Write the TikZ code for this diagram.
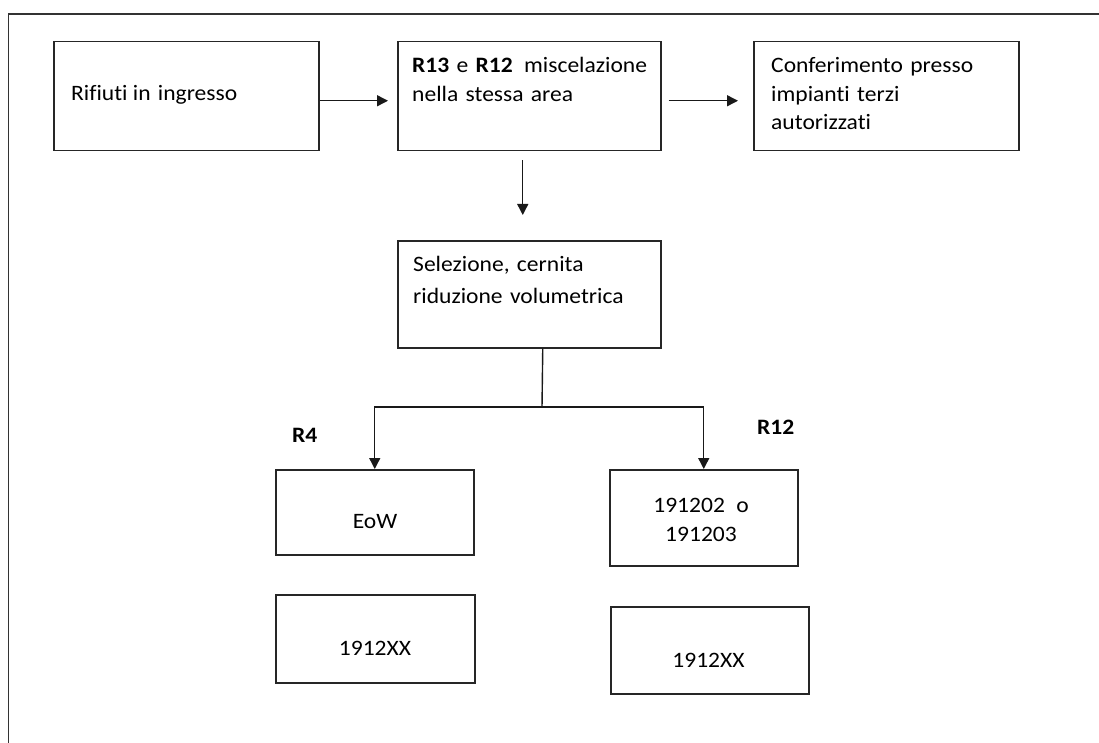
\documentclass[tikz,border=0pt]{standalone}
\usepackage{fontspec}
\setmainfont{Carlito}[Ligatures=NoCommon, FakeStretch=1.07]
\usetikzlibrary{arrows.meta}
\tikzset{
  box/.style={draw=black!85, line width=1.5pt, rectangle, inner sep=0pt, anchor=north west},
  txt/.style={inner sep=0pt, anchor=base west, text width=280pt, align=left, font=\fontsize{22}{29}\selectfont},
  ctxt/.style={inner sep=0pt, anchor=base, text width=150pt, align=center, font=\fontsize{22}{29}\selectfont},
  lbl/.style={inner sep=0pt, anchor=base west, font=\fontsize{22}{29}\selectfont\bfseries},
  conn/.style={draw=black!90, line width=1.4pt},
  arr/.style={conn, -{Triangle[length=11pt,width=11pt]}}
}
\begin{document}
\begin{tikzpicture}[x=1pt,y=-1pt]
\useasboundingbox (0,0) rectangle (1099,743);
\draw[draw=black!80, line width=1.6pt] (8.5,743) -- (8.5,14) -- (1099,14);
% boxes
\node[box, minimum width=265pt, minimum height=109pt] (b1) at (53,41) {};
\node[box, minimum width=263pt, minimum height=109pt] (b2) at (397,41) {};
\node[box, minimum width=265pt, minimum height=109pt] (b3) at (753,41) {};
\node[box, minimum width=263pt, minimum height=107pt] (b4) at (397,240) {};
\node[box, minimum width=198pt, minimum height=85pt] (b5) at (275,469) {};
\node[box, minimum width=188pt, minimum height=96pt] (b6) at (609,469) {};
\node[box, minimum width=199pt, minimum height=88pt] (b7) at (275,594) {};
\node[box, minimum width=198pt, minimum height=87pt] (b8) at (610,606) {};
% texts
\node[txt] (t1) at (71,101) {Rifiuti\kern-2pt{} in ingresso};
\node[txt] (t2) at (412,73) {\textbf{R13} e \textbf{R12}\kern4pt{} miscelazione\\nella stessa area};
\node[txt, font=\fontsize{22}{28.5}\selectfont] (t3) at (771,73) {Conferimento presso\\impianti terzi\\autorizzati};
\node[txt, font=\fontsize{22}{32}\selectfont] (t4) at (413,271) {Selezione, cernita\\riduzione volumetrica};
\node[ctxt] (t5) at (375,528) {EoW};
\node[ctxt] (t6) at (701,512) {191202\kern4pt{} o\\191203};
\node[ctxt] (t7) at (375,655) {1912XX};
\node[ctxt] (t8) at (708.5,667) {1912XX};
\node[lbl] (r4) at (292,442) {R4};
\node[lbl] (r12) at (757,434) {R12};
% connectors
\draw[arr, shorten >=9pt] ([yshift=-4.5pt]b1.east) -- ([yshift=-4.5pt]b2.west);
\draw[arr, shorten <=7pt, shorten >=15pt] ([yshift=-4.5pt]b2.east) -- ([yshift=-4.5pt]b3.west);
\draw[arr, shorten <=9pt, shorten >=25pt] ([xshift=-6.5pt]b2.south) -- ([xshift=-6.5pt]b4.north);
\coordinate (j) at (542,407);
\draw[conn] ([xshift=13.5pt]b4.south) -- (j);
\draw[arr] (j) -| (b5.north);
\draw[arr] (j) -| (b6.north);
\end{tikzpicture}
\end{document}
